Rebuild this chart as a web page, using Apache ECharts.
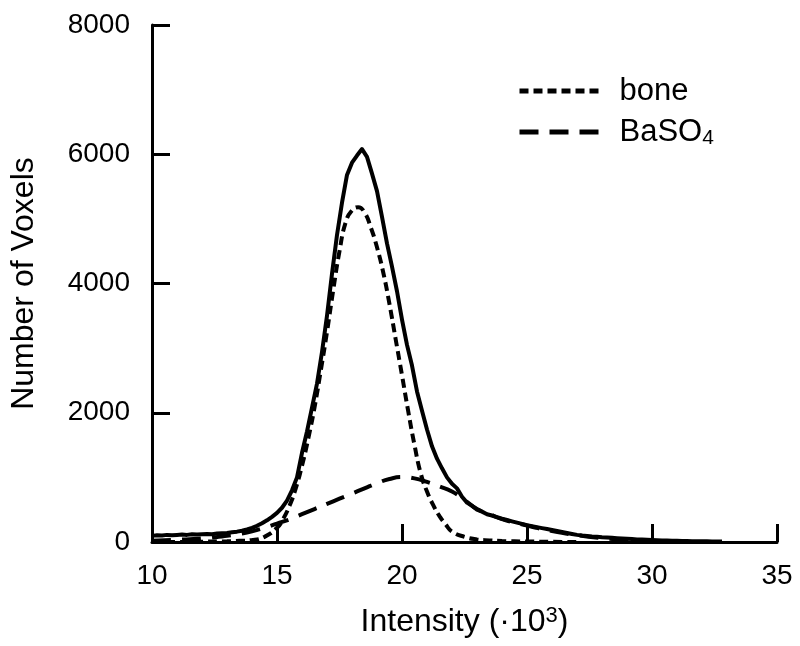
<!DOCTYPE html>
<html>
<head>
<meta charset="utf-8">
<script src="https://cdn.jsdelivr.net/npm/echarts@6/dist/echarts.min.js"></script>
<style>html,body{margin:0;padding:0;background:#fff}#c{width:800px;height:646px}</style>
</head>
<body>
<div id="c"></div>
<script>
// ---- data ----
const totalX = [10.0,10.2,10.4,10.6,10.8,11.0,11.2,11.4,11.6,11.8,12.0,12.2,12.4,12.6,12.8,13.0,13.2,13.4,13.6,13.8,
14.0,14.2,14.4,14.6,14.8,15.0,15.2,15.4,15.6,15.8,16.0,16.2,16.4,16.6,16.8,17.0,17.2,17.4,17.6,17.8,
18.0,18.2,18.4,18.6,18.8,19.0,19.2,19.4,19.6,19.8,20.0,20.2,20.4,20.6,20.8,21.0,21.2,21.4,21.6,21.8,
22.0,22.2,22.4,22.6,22.8,23.0,23.2,23.4,23.6,23.8,24.0,24.2,24.4,24.6,24.8,25.0,25.2,25.4,25.6,25.8,
26.0,26.2,26.4,26.6,26.8,27.0,27.2,27.4,27.6,27.8,28.0,28.2,28.4,28.6,28.8,29.0,29.2,29.4,29.6,29.8,
30.0,30.2,30.4,30.6,30.8,31.0,31.2,31.4,31.6,31.8,32.0,32.2,32.4,32.6,32.8];
const totalY = [95,105,100,110,105,110,115,110,120,115,120,125,120,130,135,140,150,160,175,195,
220,250,290,335,390,450,530,640,800,1000,1380,1710,2080,2450,2940,3500,4150,4750,5250,5680,
5870,5980,6080,5960,5700,5430,5030,4620,4260,3880,3440,3050,2730,2330,2030,1740,1480,1290,1140,1000,
900,830,700,610,560,500,470,430,410,385,360,340,320,300,280,260,245,230,215,200,
185,170,155,140,125,110,100,92,85,80,74,70,65,60,55,50,45,40,37,33,
30,27,25,22,20,18,16,15,13,12,11,10,9,8,7];

const boneX = [10,11,12,13,13.5,14,14.5,15,15.25,15.5,15.75,16,16.25,16.5,16.75,17,17.25,17.5,17.75,18,
18.25,18.5,18.75,19,19.25,19.5,19.75,20,20.25,20.5,20.75,21,21.25,21.5,21.75,22,22.5,23,23.5,24,25,26,27];
const boneY = [0,0,5,10,18,30,80,220,360,560,830,1180,1600,2080,2650,3250,3900,4500,4950,5130,
5180,5100,4870,4560,4170,3680,3130,2580,2020,1500,1060,780,570,400,270,160,80,40,25,15,8,3,0];

const basoX = [10,11,12,13,13.5,14,14.5,15,15.5,16,16.5,17,17.5,18,18.5,19,19.5,20,20.5,21,21.5,22,22.5,23,23.5,24,25,26,27,28,29,30];
const basoY = [20,35,55,95,125,165,220,285,350,430,510,590,670,750,830,910,975,1005,985,930,860,780,650,510,430,355,255,170,105,60,30,10];

const xTicks = {min: 10, max: 35, interval: 5};
const yTicks = {min: 0, max: 8000, interval: 2000};
const legendNames = ['bone', 'BaSO4'];

const zip = (xs, ys) => xs.map((x, i) => [x, ys[i]]);
const FONT = 'Liberation Sans, Arial, Helvetica, sans-serif';

const chart = echarts.init(document.getElementById('c'), null, {renderer: 'canvas'});
const axisCommon = {
  splitLine: {show: false},
  axisLine: {show: true, onZero: false, lineStyle: {color: '#000', width: 3}},
  axisTick: {show: true, inside: true, length: 18, lineStyle: {color: '#000', width: 3}},
  axisLabel: {color: '#000', fontSize: 28, fontFamily: FONT, formatter: v => String(v)},
  nameLocation: 'middle',
  nameTextStyle: {color: '#000', fontSize: 32, fontFamily: FONT}
};
chart.setOption({
  animation: false,
  backgroundColor: '#fff',
  color: ['#000', '#000', '#000'],
  grid: {left: 150, right: 23, top: 25, bottom: 104, containLabel: false},
  legend: {
    data: legendNames,
    orient: 'vertical',
    left: 517, top: 74, padding: 0,
    itemWidth: 83, itemHeight: 14, itemGap: 7,
    selectedMode: false,
    itemStyle: {opacity: 0},
    lineStyle: {width: 5},
    formatter: n => n === 'BaSO4' ? 'BaSO{sub|4}' : n,
    textStyle: {
      color: '#000', fontSize: 31, fontFamily: FONT, lineHeight: 34, padding: [0, 0, 0, 12],
      rich: {sub: {fontSize: 21, fontFamily: FONT, color: '#000', lineHeight: 13, verticalAlign: 'bottom'}}
    }
  },
  xAxis: Object.assign({}, axisCommon, {
    type: 'value', min: xTicks.min, max: xTicks.max, interval: xTicks.interval,
    axisLabel: Object.assign({}, axisCommon.axisLabel, {margin: 20}),
    name: 'Intensity (·10{sup|3})', nameGap: 63,
    nameTextStyle: Object.assign({}, axisCommon.nameTextStyle, {lineHeight: 34,
      rich: {sup: {fontSize: 22, fontFamily: FONT, color: '#000', lineHeight: 18, verticalAlign: 'top'}}})
  }),
  yAxis: Object.assign({}, axisCommon, {
    type: 'value', min: yTicks.min, max: yTicks.max, interval: yTicks.interval,
    axisLabel: Object.assign({}, axisCommon.axisLabel, {margin: 22}),
    name: 'Number of Voxels', nameGap: 112
  }),
  series: [
    {name: 'BaSO4', type: 'line', data: zip(basoX, basoY), symbol: 'none', smooth: true, silent: true,
     itemStyle: {color: '#000'},
     lineStyle: {color: '#000', width: 4, type: [19, 11], cap: 'butt'}, z: 2},
    {name: 'bone', type: 'line', data: zip(boneX, boneY), symbol: 'none', smooth: true, silent: true,
     itemStyle: {color: '#000'},
     lineStyle: {color: '#000', width: 4, type: [9, 5], cap: 'butt'}, z: 3},
    {name: 'total', type: 'line', data: zip(totalX, totalY), symbol: 'none', silent: true,
     itemStyle: {color: '#000'},
     lineStyle: {color: '#000', width: 4, join: 'round'}, z: 4}
  ]
});
</script>
</body>
</html>
